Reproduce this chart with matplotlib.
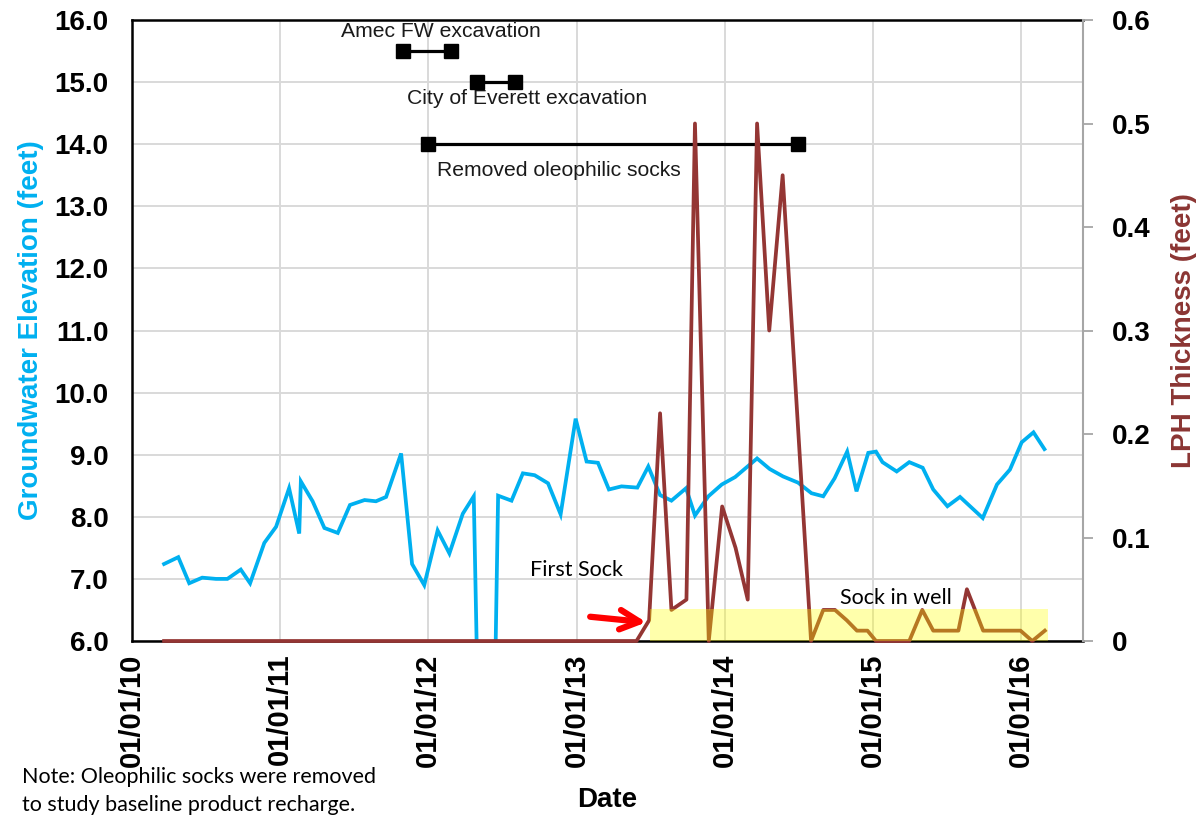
import matplotlib
matplotlib.use("Agg")
import matplotlib.pyplot as plt
import matplotlib.dates as mdates
import pandas as pd
import numpy as np

# ---------------- data ----------------
gw_dates = ["2010-03-21", "2010-04-25", "2010-05-22", "2010-06-23", "2010-07-27", "2010-08-24",
            "2010-09-26", "2010-10-19", "2010-11-23", "2010-12-22", "2011-01-23", "2011-02-17",
            "2011-02-21", "2011-03-22", "2011-04-20", "2011-05-23", "2011-06-22", "2011-07-28",
            "2011-08-25", "2011-09-19", "2011-10-26", "2011-11-22", "2011-12-22", "2012-01-24",
            "2012-02-22", "2012-03-26", "2012-04-22", "2012-05-05", "2012-06-10", "2012-06-21",
            "2012-07-24", "2012-08-21", "2012-09-19", "2012-10-22", "2012-11-22", "2012-12-29",
            "2013-01-25", "2013-02-22", "2013-03-21", "2013-04-21", "2013-05-30", "2013-06-26",
            "2013-07-25", "2013-08-22", "2013-09-27", "2013-10-19", "2013-11-21", "2013-12-24",
            "2014-01-26", "2014-03-21", "2014-04-21", "2014-05-24", "2014-06-30", "2014-08-02",
            "2014-08-31", "2014-09-28", "2014-10-29", "2014-11-21", "2014-12-20", "2015-01-08",
            "2015-01-24", "2015-02-28", "2015-03-31", "2015-05-03", "2015-05-29", "2015-07-03",
            "2015-08-03", "2015-09-28", "2015-11-02", "2015-12-04", "2016-01-02", "2016-01-31",
            "2016-02-27"]
gw_elev = [7.24, 7.35, 6.93, 7.02, 7.00, 7.00,
           7.15, 6.93, 7.58, 7.84, 8.46, 7.73,
           8.57, 8.25, 7.82, 7.74, 8.19, 8.27,
           8.25, 8.32, 9.02, 7.24, 6.90, 7.78,
           7.41, 8.05, 8.33, 4.00, 4.00, 8.34,
           8.26, 8.70, 8.67, 8.54, 8.04, 9.58,
           8.89, 8.87, 8.44, 8.49, 8.47, 8.81,
           8.35, 8.26, 8.46, 8.02, 8.33, 8.52,
           8.64, 8.94, 8.77, 8.65, 8.55, 8.38,
           8.33, 8.62, 9.05, 8.41, 9.03, 9.05,
           8.88, 8.73, 8.88, 8.79, 8.44, 8.17,
           8.32, 7.98, 8.52, 8.76, 9.20, 9.36,
           9.09]

lph_dates = ["2010-03-21", "2013-05-28", "2013-06-28", "2013-07-25", "2013-08-22", "2013-09-28",
             "2013-10-19", "2013-11-22", "2013-12-25", "2014-01-27", "2014-02-26", "2014-03-21",
             "2014-04-20", "2014-05-23", "2014-08-01", "2014-08-31", "2014-09-29", "2014-10-28",
             "2014-11-22", "2014-12-18", "2015-01-08", "2015-03-31", "2015-05-02", "2015-05-29",
             "2015-07-03", "2015-07-30", "2015-08-20", "2015-09-29", "2015-12-30", "2016-01-28",
             "2016-02-28"]
lph_thick = [0.00, 0.00, 0.02, 0.22, 0.03, 0.04,
             0.50, 0.00, 0.13, 0.09, 0.04, 0.50,
             0.30, 0.45, 0.00, 0.03, 0.03, 0.02,
             0.01, 0.01, 0.00, 0.00, 0.03, 0.01,
             0.01, 0.01, 0.05, 0.01, 0.01, 0.00,
             0.01]

events = ["Amec FW excavation", "City of Everett excavation", "Removed oleophilic socks"]
event_start = ["2011-10-30", "2012-05-01", "2012-01-01"]
event_end = ["2012-02-26", "2012-08-01", "2014-07-01"]
event_level = [15.5, 15.0, 14.0]

sock_start, sock_end, sock_top = "2013-06-30", "2016-03-06", 0.031

year_ticks = ["2010-01-01", "2011-01-01", "2012-01-01", "2013-01-01",
              "2014-01-01", "2015-01-01", "2016-01-01"]

# ---------------- plot ----------------
D = lambda s: mdates.date2num(pd.to_datetime(s))

BLUE = "#00B0F0"
BROWN = "#943634"
AR = ["Liberation Sans", "DejaVu Sans"]
CAL = ["Lato", "DejaVu Sans"]

fig = plt.figure(figsize=(12.01, 8.17), dpi=100)
ax = fig.add_axes([132/1201, 1 - 641/817, (1083-132)/1201, (641-20)/817])
ax2 = ax.twinx()

ax.set_zorder(1)
ax2.set_zorder(2)
ax2.patch.set_visible(False)

# groundwater
ax.plot(D(gw_dates), gw_elev, color=BLUE, lw=2.7, zorder=3, solid_joinstyle="miter")

# events
for name, s, e, lvl in zip(events, event_start, event_end, event_level):
    ax.plot([D(s), D(e)], [lvl, lvl], color="black", lw=2.3, marker="s", ms=10.5, zorder=4)
ax.text(D("2012-01-31"), 15.81, events[0], ha="center", va="center", fontsize=15.2, family=AR, color="#1a1a1a")
ax.text(D("2012-08-31"), 14.74, events[1], ha="center", va="center", fontsize=15.2, family=AR, color="#1a1a1a")
ax.text(D("2012-11-17"), 13.58, events[2], ha="center", va="center", fontsize=15.2, family=AR, color="#1a1a1a")

ax.set_ylim(6, 16)
ax.set_yticks(np.arange(6, 16.01, 1))
ax.yaxis.set_major_formatter(matplotlib.ticker.FormatStrFormatter("%.1f"))
ax.set_xlim(D("2010-01-01"), D("2016-06-01"))
ax.set_xticks([D(t) for t in year_ticks])
ax.xaxis.set_major_formatter(mdates.DateFormatter("%m/%d/%y"))
ax.grid(True, color="#D9D9D9", lw=1.4)
ax.set_axisbelow(True)

for lab in ax.get_xticklabels():
    lab.set_rotation(90)
ax.tick_params(axis="x", length=0, pad=9, labelsize=21)
ax.tick_params(axis="y", length=0, pad=17, labelsize=20)
for lab in ax.get_xticklabels() + ax.get_yticklabels():
    lab.set_fontweight("bold")
    lab.set_family(AR)

ax.set_ylabel("Groundwater Elevation (feet)", color=BLUE, fontsize=20, fontweight="bold", family=AR)
ax.yaxis.set_label_coords(-0.0925, 0.5)
ax.set_xlabel("Date", fontsize=20, fontweight="bold", family=AR)
ax.xaxis.set_label_coords(0.5, -0.235)

for sp in ["left", "bottom", "top"]:
    ax.spines[sp].set_color("black")
    ax.spines[sp].set_linewidth(1.8)
ax.spines["right"].set_visible(False)

# LPH
ax2.plot(D(lph_dates), lph_thick, color=BROWN, lw=2.7, zorder=3, clip_on=False)
ax2.fill_between([D(sock_start), D(sock_end)], 0, sock_top, color="#FFFF00", alpha=0.33,
                 lw=0, zorder=4)
ax2.set_ylim(0, 0.6)
ax2.set_yticks(np.arange(0, 0.61, 0.1))
ax2.yaxis.set_major_formatter(matplotlib.ticker.FuncFormatter(lambda v, p: "0" if abs(v) < 1e-9 else "%.1f" % v))
ax2.tick_params(axis="y", length=7, width=1.3, color="#A6A6A6", pad=14, labelsize=20)
for lab in ax2.get_yticklabels():
    lab.set_fontweight("bold")
    lab.set_family(AR)
ax2.set_ylabel("LPH Thickness (feet)", color="#8B3533", fontsize=20, fontweight="bold", family=AR)
ax2.yaxis.set_label_coords(1.0925, 0.5)
for sp in ["left", "bottom", "top"]:
    ax2.spines[sp].set_visible(False)
ax2.spines["right"].set_color("#A6A6A6")
ax2.spines["right"].set_linewidth(1.5)

ax2.annotate("", xy=(D("2013-06-28"), 0.0178), xytext=(D("2013-01-27"), 0.0237),
             arrowprops=dict(arrowstyle="->,head_length=1.4,head_width=0.7", color="#FF0000", lw=4.5),
             zorder=5)
ax2.text(D("2012-09-07"), 0.0686, "First Sock", ha="left", va="center", fontsize=15.5, family=CAL, color="black")
ax2.text(D("2014-10-11"), 0.0415, "Sock in well", ha="left", va="center", fontsize=15.5, family=CAL, color="black")

fig.text(22/1201, 1 - 791/817, "Note: Oleophilic socks were removed\nto study baseline product recharge.",
         ha="left", va="center", fontsize=15.5, family=CAL, linespacing=1.45)

fig.savefig("out.png", dpi=100)
